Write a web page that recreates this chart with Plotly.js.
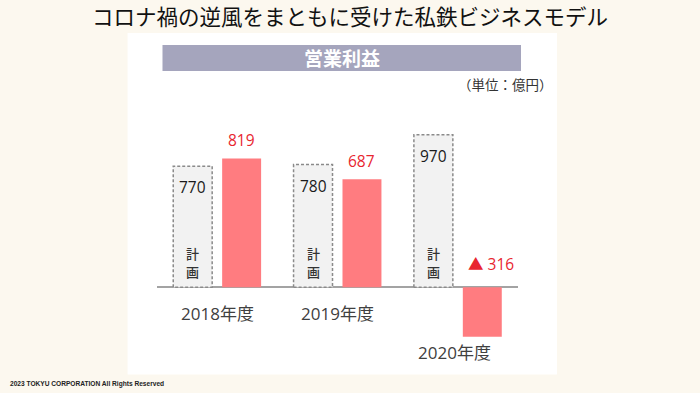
<!DOCTYPE html>
<html>
<head>
<meta charset="utf-8">
<script src="https://cdn.plot.ly/plotly-3.0.1.min.js"></script>
<style>html,body{margin:0;padding:0;background:#fcf8ef;}#chart{width:700px;height:393px;}</style>
</head>
<body>
<div id="chart"></div>
<script>
// ---- data ----
const years = ['2018年度', '2019年度', '2020年度'];
const planValues = [770, 780, 970];
const actualValues = [819, 687, -316];
const planLabelChars = ['計', '画'];
const chartTitle = 'コロナ禍の逆風をまともに受けた私鉄ビジネスモデル';
const bannerText = '営業利益';
const unitText = '（単位：億円）';
const footerText = '2023 TOKYU CORPORATION All Rights Reserved';

// ---- layout geometry ----
const W = 700, H = 393;
const L = 156.5, PW = 361.5, T = 130, PH = 220;
const px = v => (v - L) / PW;
const py = v => 1 - (v - T) / PH;
const off = 0.2033, bw = 0.3237;

const jp = '"Noto Sans CJK JP", sans-serif';
const num = '"Open Sans", "Noto Sans CJK JP", sans-serif';

const idx = years.map((_, i) => i);
const planX = idx.map(i => i - off);
const actX = idx.map(i => i + off);

// dashed outlines of plan bars
const ox = [], oy = [];
idx.forEach(i => {
  const x0 = planX[i] - bw / 2, x1 = planX[i] + bw / 2, v = planValues[i];
  ox.push(x0, x0, x1, x1, x0, null);
  oy.push(0, v, v, 0, 0, null);
});

const traces = [
  {type: 'bar', x: planX, y: planValues, width: bw, marker: {color: '#f2f2f2', line: {width: 0}}, hoverinfo: 'skip'},
  {type: 'bar', x: actX, y: actualValues, width: bw, marker: {color: '#ff7c80', line: {width: 0}}, hoverinfo: 'skip'},
  {type: 'scatter', mode: 'lines', x: ox, y: oy, line: {color: '#8a8a8a', width: 1.5, dash: '3px,2px'}, hoverinfo: 'skip', connectgaps: false}
];

const ann = [];
idx.forEach(i => {
  // plan value
  ann.push({x: planX[i], y: planValues[i], xref: 'x', yref: 'y', text: String(planValues[i]), showarrow: false,
    yanchor: 'middle', yshift: -21, font: {family: num, size: 15.5, color: '#1a1a1a'}});
  // 計 / 画
  planLabelChars.forEach((c, k) => {
    ann.push({x: planX[i], y: 0, xref: 'x', yref: 'y', text: c, showarrow: false, borderpad: 0,
      yanchor: 'middle', yshift: k === 0 ? 33.5 : 15.5, font: {family: jp, size: 13, color: '#333333', weight: 500}});
  });
  // actual value
  const a = actualValues[i];
  const t = a < 0 ? '▲ ' + Math.abs(a) : String(a);
  ann.push({x: actX[i], y: Math.max(a, 0), xref: 'x', yref: 'y', text: t, showarrow: false,
    yanchor: 'middle', yshift: a < 0 ? 23 : 18, xshift: a < 0 ? 9 : 0, font: {family: num, size: 15.5, color: '#e8262f'}});
  // category label
  ann.push({x: i, y: Math.min(a, 0), xref: 'x', yref: 'y', text: years[i], showarrow: false,
    yanchor: 'middle', yshift: a < 0 ? -15.5 : -26, xshift: a < 0 ? -3 : 0, font: {family: num, size: 17, color: '#404040'}});
});

ann.push({x: px(341.5), y: py(57.5), xref: 'paper', yref: 'paper', text: '<b>' + bannerText + '</b>', showarrow: false,
  xanchor: 'center', yanchor: 'middle', font: {family: jp, size: 19, color: '#ffffff'}});
ann.push({x: px(555), y: py(84), xref: 'paper', yref: 'paper', text: unitText, showarrow: false,
  xanchor: 'right', yanchor: 'middle', font: {family: jp, size: 13.5, color: '#333333'}});
ann.push({x: px(7), y: py(384), xref: 'paper', yref: 'paper', text: '<b>' + footerText + '</b>', showarrow: false,
  xanchor: 'left', yanchor: 'middle', font: {family: '"Liberation Sans", Arial, sans-serif', size: 6.6, color: '#222222'}});

const shapes = [
  {type: 'rect', xref: 'paper', yref: 'paper', x0: px(127), x1: px(557), y0: py(33), y1: py(374.5), fillcolor: '#ffffff', line: {width: 0}, layer: 'below'},
  {type: 'rect', xref: 'paper', yref: 'paper', x0: px(162), x1: px(521), y0: py(45), y1: py(71), fillcolor: '#a5a5bd', line: {width: 0}, layer: 'below'}
];

const layout = {
  width: W, height: H,
  margin: {l: L, r: W - L - PW, t: T, b: H - T - PH, pad: 0},
  paper_bgcolor: '#fcf8ef', plot_bgcolor: 'rgba(0,0,0,0)',
  showlegend: false,
  title: {text: chartTitle, x: 0.5, xref: 'container', xanchor: 'center', y: 1 - 17 / H, yref: 'container', yanchor: 'middle',
    font: {family: jp, size: 21.5, color: '#111111'}},
  xaxis: {range: [-0.5, 2.5], showticklabels: false, showgrid: false, zeroline: false, showline: false, fixedrange: true},
  yaxis: {range: [-400, 1000], showticklabels: false, showgrid: false, zeroline: true, zerolinecolor: '#a3a3a3', zerolinewidth: 1.5, showline: false, fixedrange: true},
  barmode: 'overlay',
  annotations: ann,
  shapes: shapes
};

Plotly.newPlot('chart', traces, layout, {staticPlot: true, displayModeBar: false});
</script>
</body>
</html>
